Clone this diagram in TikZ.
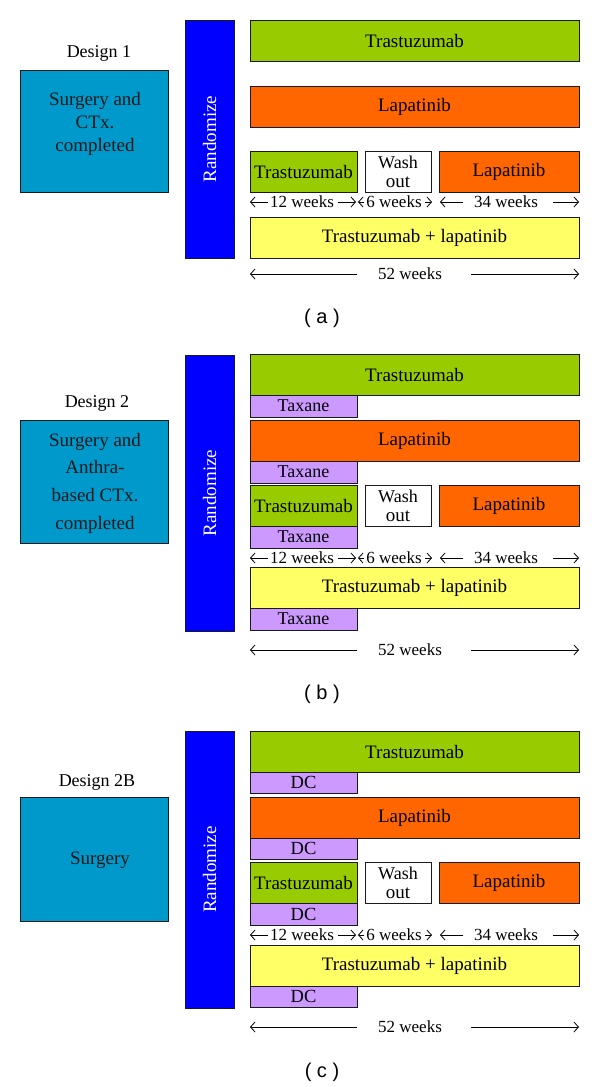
\documentclass[tikz,border=0pt]{standalone}
\usepackage{fontspec}
\setmainfont{Liberation Serif}
\newfontfamily\capfont{Liberation Sans}
\usetikzlibrary{arrows.meta}
\definecolor{cgreen}{HTML}{99CC00}
\definecolor{corange}{HTML}{FF6600}
\definecolor{cyellow}{HTML}{FFFF66}
\definecolor{cteal}{HTML}{0099CC}
\definecolor{cblue}{HTML}{0000FF}
\definecolor{cpurple}{HTML}{CC99FF}
\definecolor{cedge}{HTML}{1A1A1A}
\newcommand\bx[7]{\node[box, fill=#2, minimum width=#5pt, minimum height=#6pt] (#1) at (#3,#4) {#7};}
\newcommand\weeksrow[2]{%
  \node[wtxt] (#1w12) at (302,#2) {12 weeks};
  \node[wtxt] (#1w6) at (394,#2) {6 weeks};
  \node[wtxt] (#1w34) at (506,#2) {34 weeks};
  \coordinate (#1a) at (250,#2);
  \coordinate (#1b) at (268,#2);
  \coordinate (#1c) at (338,#2);
  \coordinate (#1d) at (356,#2);
  \coordinate (#1e) at (358,#2);
  \coordinate (#1f) at (364,#2);
  \coordinate (#1g) at (425,#2);
  \coordinate (#1h) at (432,#2);
  \coordinate (#1i) at (440,#2);
  \coordinate (#1j) at (463,#2);
  \coordinate (#1k) at (553,#2);
  \coordinate (#1l) at (579,#2);
  \draw[wk] (#1b) -- (#1a);
  \draw[wk] (#1c) -- (#1d);
  \draw[wk] (#1f) -- (#1e);
  \draw[wk] (#1g) -- (#1h);
  \draw[wk] (#1j) -- (#1i);
  \draw[wk] (#1k) -- (#1l);
}
\newcommand\fiftytwo[2]{%
  \node[wtxt] (#1t) at (410,#2) {52 weeks};
  \coordinate (#1a) at (250,#2);
  \coordinate (#1b) at (357,#2);
  \coordinate (#1c) at (471,#2);
  \coordinate (#1d) at (579,#2);
  \draw[wk] (#1b) -- (#1a);
  \draw[wk] (#1c) -- (#1d);
}
\begin{document}
\begin{tikzpicture}[x=1pt,y=-1pt,
  box/.style={draw=cedge, line width=0.9pt, inner sep=0pt, text=black,
    font=\fontsize{19}{19}\selectfont, align=center},
  wtxt/.style={font=\fontsize{17}{17}\selectfont, inner sep=0pt},
  wk/.style={line width=0.8pt, -{Straight Barb[length=4.5pt,width=10pt]}},
  rnd/.style={box, fill=cblue, text=white, minimum height=49pt, rotate=90},
  dlab/.style={font=\fontsize{18}{18}\selectfont, inner sep=0pt},
  dtxt/.style={align=center, text=black!90, inner sep=0pt},
  panelcap/.style={font=\capfont\fontsize{20}{20}\selectfont, inner sep=0pt}]
\useasboundingbox (0,0) rectangle (600,1087);

% ---------------- panel (a)
\node[dlab] (d1) at (99,53) {Design 1};
\node[box, fill=cteal, minimum width=148pt, minimum height=122pt] (d1box) at (94,131) {};
\node[dtxt, font=\fontsize{19}{23}\selectfont] (d1t) at (95,124) {Surgery and\\CTx.\\completed};
\node[rnd, minimum width=238pt] (r1) at (209.5,139) {Randomize};
\bx{a1}{cgreen}{414.5}{40.5}{329}{41}{Trastuzumab}
\bx{a2}{corange}{414.5}{106.5}{329}{41}{Lapatinib}
\bx{a3t}{cgreen}{303.5}{171.5}{107}{41}{Trastuzumab}
\bx{a3w}{white}{398}{171.5}{66}{41}{\fontsize{18}{19}\selectfont Wash\\out}
\bx{a3l}{corange}{509}{171.5}{140}{41}{Lapatinib}
\weeksrow{aw}{202}
\bx{a4}{cyellow}{414.5}{237.5}{329}{41}{Trastuzumab + lapatinib}
\fiftytwo{af}{274}
\node[panelcap] (ca) at (322,318) {( a )};

% ---------------- panel (b)
\node[dlab] (d2) at (97,403) {Design 2};
\node[box, fill=cteal, minimum width=148pt, minimum height=123pt] (d2box) at (94,481.5) {};
\node[dtxt, font=\fontsize{19}{27.7}\selectfont] (d2t) at (95,483) {Surgery and\\Anthra-\\based CTx.\\completed};
\node[rnd, minimum width=276pt] (r2) at (209.5,493) {Randomize};
\bx{b1}{cgreen}{414.5}{375}{329}{41}{Trastuzumab}
\bx{b1x}{cpurple}{303.5}{406}{107}{22}{\fontsize{18}{18}\selectfont Taxane}
\bx{b2}{corange}{414.5}{440.5}{329}{41}{Lapatinib}
\bx{b2x}{cpurple}{303.5}{472}{107}{22}{\fontsize{18}{18}\selectfont Taxane}
\bx{b3t}{cgreen}{303.5}{505.5}{107}{41}{Trastuzumab}
\bx{b3w}{white}{398}{505.5}{66}{41}{\fontsize{18}{19}\selectfont Wash\\out}
\bx{b3l}{corange}{509}{505.5}{140}{41}{Lapatinib}
\bx{b3x}{cpurple}{303.5}{537}{107}{22}{\fontsize{18}{18}\selectfont Taxane}
\weeksrow{bw}{558}
\bx{b4}{cyellow}{414.5}{587.5}{329}{41}{Trastuzumab + lapatinib}
\bx{b4x}{cpurple}{303.5}{619}{107}{22}{\fontsize{18}{18}\selectfont Taxane}
\fiftytwo{bf}{650}
\node[panelcap] (cb) at (322,694) {( b )};

% ---------------- panel (c)
\node[dlab] (d3) at (97,782) {Design 2B};
\node[box, fill=cteal, minimum width=148pt, minimum height=124pt] (d3box) at (94,859) {};
\node[dtxt, font=\fontsize{19}{23}\selectfont] (d3t) at (100,860) {Surgery};
\node[rnd, minimum width=277pt] (r3) at (209.5,869.5) {Randomize};
\bx{c1}{cgreen}{414.5}{752}{329}{41}{Trastuzumab}
\bx{c1x}{cpurple}{303.5}{782.5}{107}{21}{\fontsize{18.5}{18}\selectfont DC}
\bx{c2}{corange}{414.5}{817.5}{329}{41}{Lapatinib}
\bx{c2x}{cpurple}{303.5}{848.5}{107}{21}{\fontsize{18.5}{18}\selectfont DC}
\bx{c3t}{cgreen}{303.5}{883}{107}{41}{Trastuzumab}
\bx{c3w}{white}{398}{883}{66}{41}{\fontsize{18}{19}\selectfont Wash\\out}
\bx{c3l}{corange}{509}{883}{140}{41}{Lapatinib}
\bx{c3x}{cpurple}{303.5}{914}{107}{22}{\fontsize{18.5}{18}\selectfont DC}
\weeksrow{cw}{935}
\bx{c4}{cyellow}{414.5}{965.5}{329}{41}{Trastuzumab + lapatinib}
\bx{c4x}{cpurple}{303.5}{996.5}{107}{21}{\fontsize{18.5}{18}\selectfont DC}
\fiftytwo{cf}{1027}
\node[panelcap] (cc) at (322,1072) {( c )};
\end{tikzpicture}
\end{document}
